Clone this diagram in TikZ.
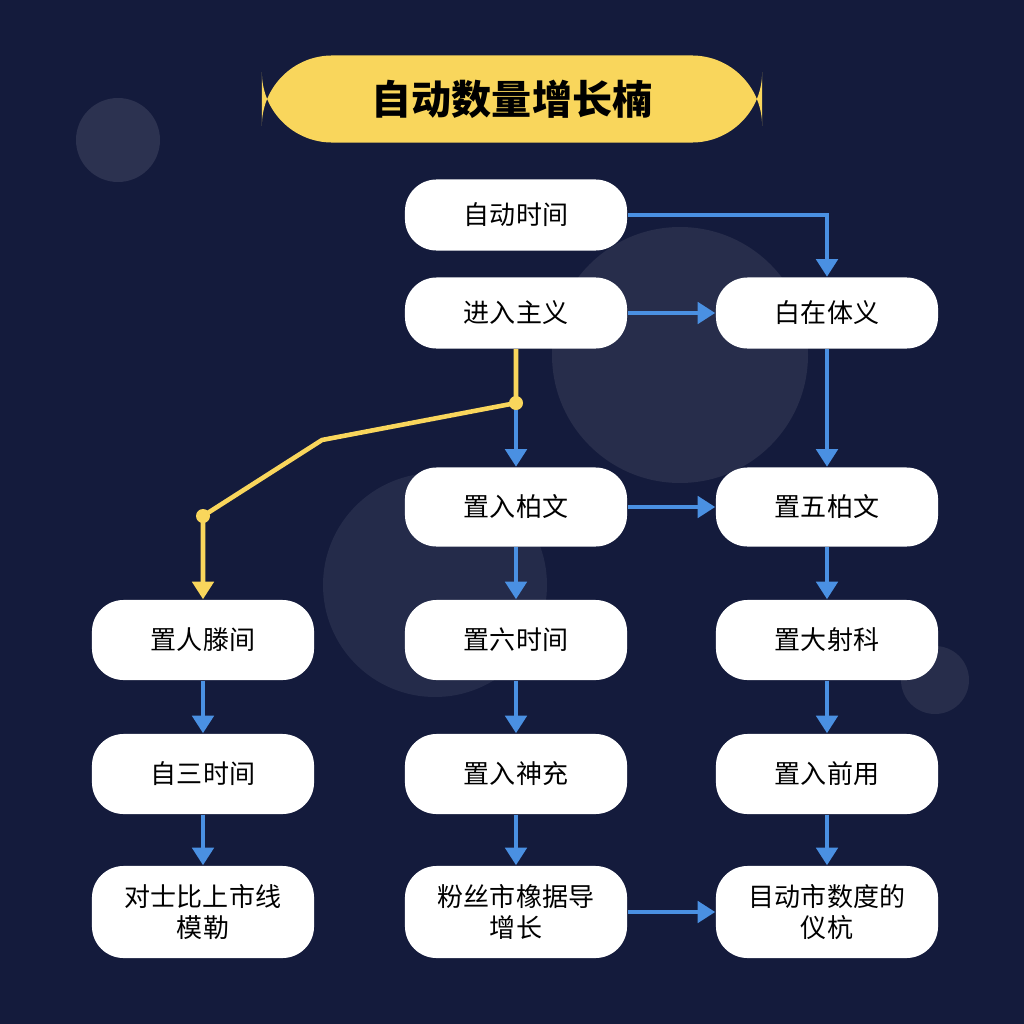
\documentclass[tikz,border=0pt]{standalone}
\usepackage{fontspec}
\setmainfont{Noto Sans CJK SC}
\usetikzlibrary{arrows.meta}
\definecolor{fond}{HTML}{141B3C}
\definecolor{bleu}{HTML}{4A90E2}
\definecolor{jaune}{HTML}{F9D65C}
\begin{document}
\begin{tikzpicture}[x=0.01cm,y=-0.01cm]
\tikzstyle{boite}=[rectangle,rounded corners=9pt,fill=white,minimum width=6.2cm*0.358,minimum height=0.71cm,align=center,font=\fontsize{7.4}{8.6}\selectfont,text=black]
\tikzstyle{haute}=[boite,minimum height=0.92cm]
\tikzstyle{fleche}=[-{Triangle[length=5pt,width=6pt]},bleu,line width=1.3pt]
\tikzstyle{jfleche}=[-{Triangle[length=5pt,width=6pt]},jaune,line width=1.3pt]
\fill[fond] (0,0) rectangle (1024,1024);
\fill[white!10!fond] (118,140) circle (42);
\fill[white!8!fond] (680,355) circle (128);
\fill[white!7!fond] (435,585) circle (112);
\fill[white!8!fond] (935,680) circle (34);
\node[rectangle,rounded corners=20pt,fill=jaune,minimum width=5cm,minimum height=0.87cm,font=\fontsize{11.4}{13}\selectfont\bfseries] (titre) at (512,99) {自动数量增长楠};
\node[boite] (a) at (516,215) {自动时间};
\node[boite] (b) at (516,313) {进入主义};
\node[boite] (c) at (827,313) {白在体义};
\node[boite,minimum height=0.79cm] (d) at (516,507) {置入柏文};
\node[boite,minimum height=0.79cm] (e) at (827,507) {置五柏文};
\node[boite,minimum height=0.8cm] (f) at (203,640) {置人滕间};
\node[boite,minimum height=0.8cm] (g) at (516,640) {置六时间};
\node[boite,minimum height=0.8cm] (h) at (827,640) {置大射科};
\node[boite,minimum height=0.8cm] (i) at (203,774) {自三时间};
\node[boite,minimum height=0.8cm] (j) at (516,774) {置入神充};
\node[boite,minimum height=0.8cm] (k) at (827,774) {置入前用};
\node[haute] (l) at (203,912) {对士比上市线\\模勒};
\node[haute] (m) at (516,912) {粉丝市橡据导\\增长};
\node[haute] (n) at (827,912) {目动市数度的\\仪杭};
%flèches
\draw[fleche] (a.east) -| (c.north);
\draw[fleche] (b) -- (c);
\draw[fleche] (c) -- (e);
\draw[fleche] (d) -- (e);
\draw[fleche] (516,403) -- (d.north);
\draw[fleche] (d) -- (g);
\draw[fleche] (g) -- (j);
\draw[fleche] (j) -- (m);
\draw[fleche] (e) -- (h);
\draw[fleche] (h) -- (k);
\draw[fleche] (k) -- (n);
\draw[fleche] (f) -- (i);
\draw[fleche] (i) -- (l);
\draw[fleche] (m) -- (n);
\coordinate (p1) at (516,403);
\coordinate (p2) at (203,516);
\draw[jfleche] (b.south) -- (p1) -- (322,440) -- (p2) -- (f.north);
\fill[jaune] (p1) circle (7) (p2) circle (7);
\end{tikzpicture}
\end{document}
